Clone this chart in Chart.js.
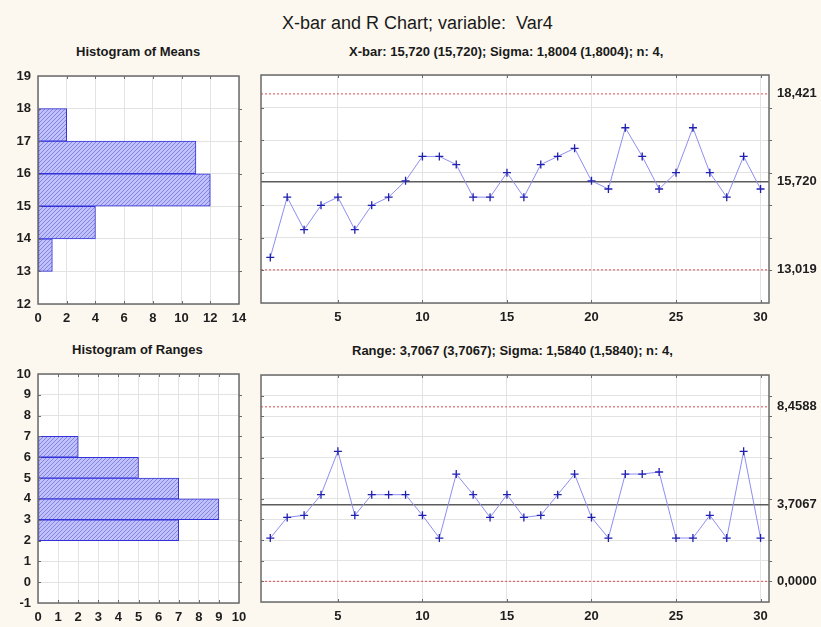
<!DOCTYPE html>
<html><head><meta charset="utf-8">
<script src="https://cdn.jsdelivr.net/npm/chart.js@4.4.1/dist/chart.umd.min.js"></script>
<style>
html,body{margin:0;padding:0;background:#fcf8ef;width:821px;height:627px;overflow:hidden;font-family:"Liberation Sans",Arial,sans-serif;}
.t{position:absolute;white-space:nowrap;color:#1a1a1a;line-height:1;}
.b{font-weight:bold;font-size:13px;}
canvas{position:absolute;}
</style></head><body>
<div class="t" style="left:282px;top:14px;font-size:18px;">X-bar and R Chart; variable:&nbsp; Var4</div>
<div class="t b" style="left:76px;top:45px;">Histogram of Means</div>
<div class="t b" style="left:349px;top:45px;">X-bar: 15,720 (15,720); Sigma: 1,8004 (1,8004); n: 4,</div>
<div class="t b" style="left:72px;top:343px;">Histogram of Ranges</div>
<div class="t b" style="left:352px;top:344px;">Range: 3,7067 (3,7067); Sigma: 1,5840 (1,5840); n: 4,</div>
<canvas id="hm" width="250" height="258" style="left:0;top:66px"></canvas>
<canvas id="xc" width="571" height="258" style="left:250px;top:65px"></canvas>
<canvas id="hr" width="250" height="259" style="left:0;top:364px"></canvas>
<canvas id="rc" width="571" height="257" style="left:250px;top:365px"></canvas>
<script>
// ---------- data ----------
const samples = [1,2,3,4,5,6,7,8,9,10,11,12,13,14,15,16,17,18,19,20,21,22,23,24,25,26,27,28,29,30];
const means = [13.4,15.25,14.25,15.0,15.25,14.25,15.0,15.25,15.75,16.5,16.5,16.25,15.25,15.25,16.0,15.25,16.25,16.5,16.75,15.75,15.5,17.38,16.5,15.5,16.0,17.38,16.0,15.25,16.5,15.5];
const ranges = [2.1,3.1,3.2,4.2,6.3,3.2,4.2,4.2,4.2,3.2,2.1,5.2,4.2,3.1,4.2,3.1,3.2,4.2,5.2,3.1,2.1,5.2,5.2,5.3,2.1,2.1,3.2,2.1,6.3,2.1];
const xbarLimits = [13.019, 15.720, 18.421];   // LCL, CL, UCL
const rangeLimits = [0.0, 3.7067, 8.4588];
const meanBinEdges = [13,14,15,16,17,18];
const meanCounts = [1,4,12,11,2];
const rangeBinEdges = [2,3,4,5,6,7];
const rangeCounts = [7,9,7,5,2];
const sampleTicks = [5,10,15,20,25,30];

// ---------- styles ----------
const FONT = {family:'"Liberation Sans", Arial, sans-serif', size:13, weight:'bold'};
const TICKC = '#1e1e1e';
const GRIDC = '#e3e3e3';
const FRAMEC = '#6a6a6a';
Chart.defaults.animation = false;
Chart.defaults.plugins.legend.display = false;
Chart.defaults.plugins.tooltip.enabled = false;

function fix(w, h){
  return function(s){
    if (w !== null) s.width = w;
    if (h !== null) s.height = h;
    s.paddingTop = 0; s.paddingBottom = 0; s.paddingLeft = 0; s.paddingRight = 0;
  };
}
function hatch(){
  const c = document.createElement('canvas'); c.width = 4; c.height = 4;
  const g = c.getContext('2d');
  g.fillStyle = '#c0c0fa'; g.fillRect(0,0,4,4);
  g.strokeStyle = '#8585e6'; g.lineWidth = 1;
  g.beginPath(); g.moveTo(-1,5); g.lineTo(5,-1); g.stroke();
  return g.createPattern(c,'repeat');
}
const frame = {
  id:'frame',
  beforeDraw(c){const {ctx,chartArea:a}=c; ctx.save(); ctx.fillStyle='#ffffff'; ctx.fillRect(a.left,a.top,a.right-a.left,a.bottom-a.top); ctx.restore();},
  afterDraw(c){
    const {ctx,chartArea:a}=c;
    ctx.save(); ctx.strokeStyle=FRAMEC; ctx.lineWidth=1.5;
    ctx.strokeRect(a.left,a.top,a.right-a.left,a.bottom-a.top);
    ctx.lineWidth=1; ctx.beginPath();
    const xs = c.scales.x, ys = c.scales.y;
    xs.ticks.forEach(t=>{const p=Math.round(xs.getPixelForValue(t.value))+0.5; if(p>a.left+1&&p<a.right-1){ctx.moveTo(p,a.top);ctx.lineTo(p,a.top+3);ctx.moveTo(p,a.bottom);ctx.lineTo(p,a.bottom-3);}});
    ys.ticks.forEach(t=>{const p=Math.round(ys.getPixelForValue(t.value))+0.5; if(p>a.top+1&&p<a.bottom-1){ctx.moveTo(a.left,p);ctx.lineTo(a.left+3,p);ctx.moveTo(a.right,p);ctx.lineTo(a.right+3,p);}});
    ctx.stroke(); ctx.restore();
  }
};

function histogram(id, edges, counts, ymin, ymax, xmax, xstep){
  const pts = counts.map((n,i)=>({y:(edges[i]+edges[i+1])/2, x:n}));
  new Chart(document.getElementById(id), {
    type:'bar',
    data:{datasets:[{data:pts, backgroundColor:hatch(), borderColor:'#3232d8', borderWidth:1, borderSkipped:false, barPercentage:1, categoryPercentage:1}]},
    options:{
      responsive:false, indexAxis:'y',
      layout:{padding:{top:10,right:11,left:0,bottom:0}},
      scales:{
        y:{type:'linear', offset:false, min:ymin, max:ymax, ticks:{stepSize:1, font:FONT, color:TICKC, padding:7}, grid:{color:GRIDC, drawTicks:false, offset:false}, border:{display:false}, afterFit:fix(38,null)},
        x:{type:'linear', offset:false, min:0, max:xmax, ticks:{stepSize:xstep, font:FONT, color:TICKC, padding:7, maxRotation:0, minRotation:0, autoSkip:false}, grid:{color:GRIDC, drawTicks:false}, border:{display:false}, afterFit:fix(null,20)}
      }
    },
    plugins:[frame]
  });
}
histogram('hm', meanBinEdges, meanCounts, 12, 19, 14, 2);
histogram('hr', rangeBinEdges, rangeCounts, -1, 10, 10, 1);

function control(id, values, limits, ymin, ymax, dec){
  const series = values.map((v,i)=>({x:samples[i], y:v}));
  const XMIN = 0.45, XMAX = 30.5;
  const hline = v => [{x:XMIN,y:v},{x:XMAX,y:v}];
  new Chart(document.getElementById(id), {
    type:'line',
    data:{datasets:[
      {data:series, borderColor:'#8e8ef2', borderWidth:1, tension:0, pointStyle:'cross', pointRadius:4, pointBorderColor:'#2020b0', pointBorderWidth:1.3, order:1},
      {data:hline(limits[1]), borderColor:'#5c5c5c', borderWidth:1.5, pointRadius:0, order:2},
      {data:hline(limits[0]), borderColor:'#e06a6a', borderWidth:1.2, borderDash:[2,2], pointRadius:0, order:3},
      {data:hline(limits[2]), borderColor:'#e06a6a', borderWidth:1.2, borderDash:[2,2], pointRadius:0, order:3}
    ]},
    options:{
      responsive:false,
      layout:{padding:{top:10,right:0,left:0,bottom:0}},
      scales:{
        x:{type:'linear', min:XMIN, max:XMAX, afterBuildTicks(s){s.ticks=sampleTicks.map(v=>({value:v}));}, ticks:{font:FONT, color:TICKC, padding:7, maxRotation:0, minRotation:0, autoSkip:false}, grid:{color:GRIDC, drawTicks:false}, border:{display:false}, afterFit:fix(null,20)},
        y:{type:'linear', position:'left', min:ymin, max:ymax, ticks:{stepSize:1, display:false}, grid:{color:GRIDC, drawTicks:false}, border:{display:false}, afterFit:fix(11,null)},
        yr:{type:'linear', position:'right', min:ymin, max:ymax, afterBuildTicks(s){s.ticks=limits.map(v=>({value:v}));}, ticks:{font:FONT, color:TICKC, padding:8, callback:v=>v.toFixed(dec).replace('.',',')}, grid:{display:false, drawOnChartArea:false, drawTicks:false}, border:{display:false}, afterFit:fix(52,null)}
      }
    },
    plugins:[frame]
  });
}
control('xc', means, xbarLimits, 12, 19, 3);
control('rc', ranges, rangeLimits, -1, 10, 4);
</script>
</body></html>
